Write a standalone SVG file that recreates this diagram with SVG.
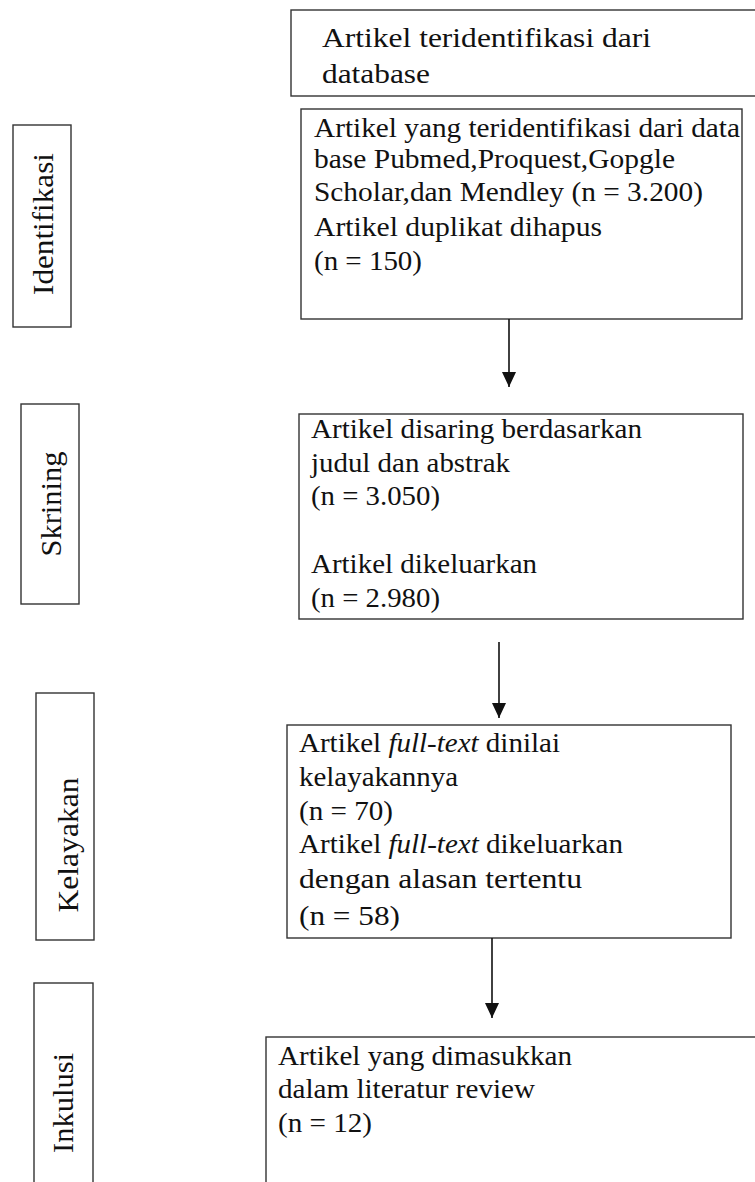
<svg xmlns="http://www.w3.org/2000/svg" width="755" height="1182" viewBox="0 0 755 1182">
<style>
.box{fill:#fff;stroke:#333;stroke-width:1.4}
text{font-family:"Liberation Serif","Times New Roman",serif;fill:#111}
.t{font-size:27px}
.lab{font-size:30px;text-anchor:middle}
.conn{stroke:#111;stroke-width:1.6;fill:none;marker-end:url(#ah)}
</style>
<defs>
<marker id="ah" viewBox="0 0 15 14" refX="15" refY="7" markerWidth="15" markerHeight="14" markerUnits="userSpaceOnUse" orient="auto">
<path d="M0,0 L15,7 L0,14 z" fill="#111"/>
</marker>
</defs>
<rect width="755" height="1182" fill="#fff"/>

<g id="label-identifikasi">
<rect class="box" x="13" y="125" width="58" height="202"/>
<text class="lab" transform="translate(53,224) rotate(-90)" textLength="142" lengthAdjust="spacingAndGlyphs">Identifikasi</text>
</g>
<g id="label-skrining">
<rect class="box" x="21" y="404" width="58" height="200"/>
<text class="lab" transform="translate(61,504) rotate(-90)" textLength="105" lengthAdjust="spacingAndGlyphs">Skrining</text>
</g>
<g id="label-kelayakan">
<rect class="box" x="36" y="693" width="58" height="247"/>
<text class="lab" transform="translate(78,845) rotate(-90)" textLength="135" lengthAdjust="spacingAndGlyphs">Kelayakan</text>
</g>
<g id="label-inkulusi">
<rect class="box" x="34" y="983" width="59" height="210"/>
<text class="lab" transform="translate(73,1103) rotate(-90)" textLength="100" lengthAdjust="spacingAndGlyphs">Inkulusi</text>
</g>

<g id="node-database">
<rect class="box" x="291" y="10" width="470" height="86"/>
<text class="t" x="322" y="47" textLength="329" lengthAdjust="spacingAndGlyphs">Artikel teridentifikasi dari</text>
<text class="t" x="322" y="83" textLength="108" lengthAdjust="spacingAndGlyphs">database</text>
</g>

<g id="node-identifikasi">
<rect class="box" x="301" y="109" width="441" height="210"/>
<text class="t" x="314" y="137" textLength="426" lengthAdjust="spacingAndGlyphs">Artikel yang teridentifikasi dari data</text>
<text class="t" x="314" y="168" textLength="361" lengthAdjust="spacingAndGlyphs">base Pubmed,Proquest,Gopgle</text>
<text class="t" x="314" y="201" textLength="389" lengthAdjust="spacingAndGlyphs">Scholar,dan Mendley (n = 3.200)</text>
<text class="t" x="314" y="236" textLength="288" lengthAdjust="spacingAndGlyphs">Artikel duplikat dihapus</text>
<text class="t" x="314" y="270" textLength="108" lengthAdjust="spacingAndGlyphs">(n = 150)</text>
</g>

<g id="node-skrining">
<rect class="box" x="299" y="414" width="444" height="205"/>
<text class="t" x="311" y="438" textLength="331" lengthAdjust="spacingAndGlyphs">Artikel disaring berdasarkan</text>
<text class="t" x="311" y="472" textLength="199" lengthAdjust="spacingAndGlyphs">judul dan abstrak</text>
<text class="t" x="311" y="505" textLength="129" lengthAdjust="spacingAndGlyphs">(n = 3.050)</text>
<text class="t" x="311" y="573" textLength="226" lengthAdjust="spacingAndGlyphs">Artikel dikeluarkan</text>
<text class="t" x="311" y="607" textLength="129" lengthAdjust="spacingAndGlyphs">(n = 2.980)</text>
</g>

<g id="node-kelayakan">
<rect class="box" x="287" y="725" width="444" height="213"/>
<text class="t" x="299" y="752" textLength="261" lengthAdjust="spacingAndGlyphs">Artikel <tspan font-style="italic">full-text</tspan> dinilai</text>
<text class="t" x="299" y="786" textLength="159" lengthAdjust="spacingAndGlyphs">kelayakannya</text>
<text class="t" x="299" y="820" textLength="94" lengthAdjust="spacingAndGlyphs">(n = 70)</text>
<text class="t" x="299" y="853" textLength="324" lengthAdjust="spacingAndGlyphs">Artikel <tspan font-style="italic">full-text</tspan> dikeluarkan</text>
<text class="t" x="299" y="888" textLength="283" lengthAdjust="spacingAndGlyphs">dengan alasan tertentu</text>
<text class="t" x="299" y="925" textLength="101" lengthAdjust="spacingAndGlyphs">(n = 58)</text>
</g>

<g id="node-inklusi">
<rect class="box" x="266" y="1037" width="500" height="160"/>
<text class="t" x="278" y="1065" textLength="294" lengthAdjust="spacingAndGlyphs">Artikel yang dimasukkan</text>
<text class="t" x="278" y="1098" textLength="257" lengthAdjust="spacingAndGlyphs">dalam literatur review</text>
<text class="t" x="278" y="1132" textLength="94" lengthAdjust="spacingAndGlyphs">(n = 12)</text>
</g>

<g id="connectors">
<line class="conn" x1="509" y1="319" x2="509" y2="387"/>
<line class="conn" x1="499" y1="642" x2="499" y2="718"/>
<line class="conn" x1="492" y1="938" x2="492" y2="1018"/>
</g>
</svg>
